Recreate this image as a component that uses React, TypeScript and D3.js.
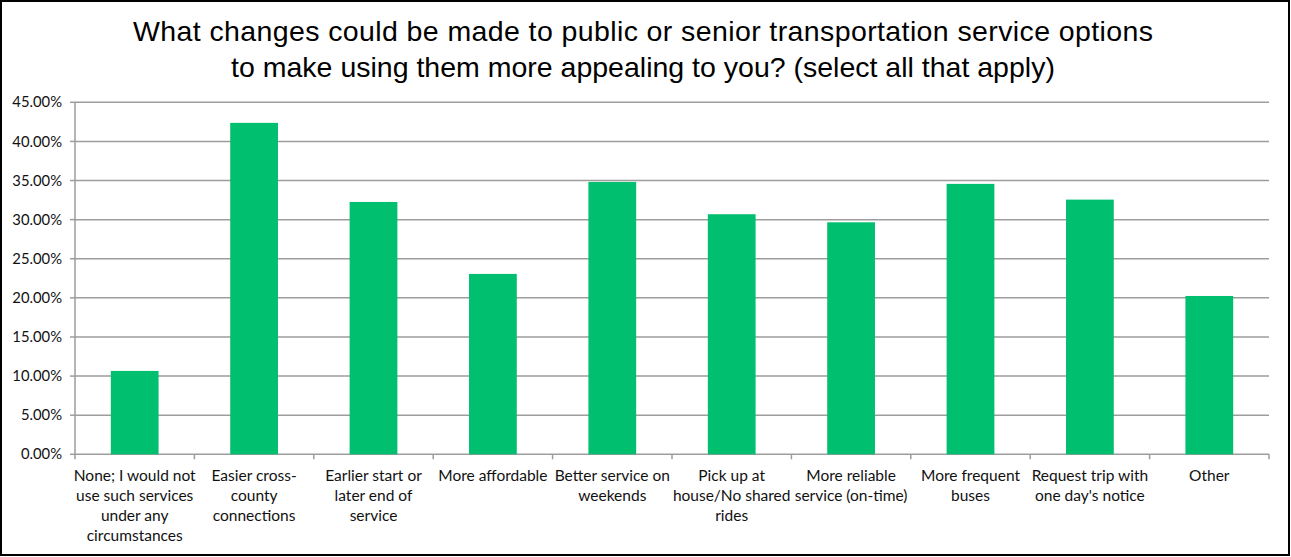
import React from "react";
import * as d3 from "d3";

const categories: string[][] = [
  ["None; I would not", "use such services", "under any", "circumstances"],
  ["Easier cross-", "county", "connections"],
  ["Earlier start or", "later end of", "service"],
  ["More affordable"],
  ["Better service on", "weekends"],
  ["Pick up at", "house/No shared", "rides"],
  ["More reliable", "service (on-time)"],
  ["More frequent", "buses"],
  ["Request trip with", "one day's notice"],
  ["Other"],
];
const values: number[] = [0.1066, 0.4237, 0.3226, 0.2306, 0.3482, 0.3069, 0.2966, 0.3457, 0.3256, 0.2024];
const yTicks: number[] = [0, 0.05, 0.1, 0.15, 0.2, 0.25, 0.3, 0.35, 0.4, 0.45];
const titleLines: string[] = [
  "What changes could be made to public or senior transportation service options",
  "to make using them more appealing to you? (select all that apply)",
];

const W = 1291;
const H = 557;
const left = 75;
const right = 1269;
const top = 102.3;
const bottom = 454.3;

export default function App() {
  const x = d3
    .scaleBand<number>()
    .domain(d3.range(values.length))
    .range([left, right])
    .paddingInner(0.6)
    .paddingOuter(0.3);
  const y = d3.scaleLinear().domain([0, 0.45]).range([bottom, top]);
  const step = (right - left) / values.length;
  const fmt = d3.format(".2%");
  const labelFont = "Lato, 'Open Sans', sans-serif";

  return (
    <svg
      width={W}
      height={H}
      style={{ position: "absolute", left: 0, top: 0, background: "#fff" }}
    >
      <rect x={1} y={1} width={1288} height={554} fill="#fff" stroke="#000" strokeWidth={2} />
      {titleLines.map((t, i) => (
        <text
          key={i}
          x={643}
          y={41 + i * 36}
          textAnchor="middle"
          fontFamily="'Liberation Sans', Arial, sans-serif"
          fontSize={28.5}
          fill="#000"
          textLength={i === 0 ? 1020 : undefined}
        >
          {t}
        </text>
      ))}
      {yTicks.map((t) => (
        <g key={t}>
          <line x1={left} x2={right} y1={y(t)} y2={y(t)} stroke="#9d9d9d" strokeWidth={1.5} />
          <line x1={left - 5} x2={left} y1={y(t)} y2={y(t)} stroke="#9d9d9d" strokeWidth={1.5} />
          <text
            x={62}
            y={y(t)}
            dy="0.35em"
            textAnchor="end"
            fontFamily={labelFont}
            fontSize={14.8}
            fill="#111"
          >
            {fmt(t)}
          </text>
        </g>
      ))}
      <line x1={left} x2={left} y1={top} y2={bottom} stroke="#9d9d9d" strokeWidth={1.5} />
      {d3.range(values.length + 1).map((i) => (
        <line
          key={i}
          x1={left + i * step}
          x2={left + i * step}
          y1={bottom}
          y2={bottom + 5}
          stroke="#9d9d9d"
          strokeWidth={1.5}
        />
      ))}
      {values.map((v, i) => (
        <rect
          key={i}
          x={x(i)!}
          y={y(v)}
          width={x.bandwidth()}
          height={bottom - y(v)}
          fill="#00bf6f"
        />
      ))}
      {categories.map((lines, i) => (
        <text
          key={i}
          x={left + (i + 0.5) * step}
          textAnchor="middle"
          fontFamily={labelFont}
          fontSize={15.5}
          fill="#111"
        >
          {lines.map((l, j) => (
            <tspan key={j} x={left + (i + 0.5) * step} y={481 + j * 20}>
              {l}
            </tspan>
          ))}
        </text>
      ))}
    </svg>
  );
}
